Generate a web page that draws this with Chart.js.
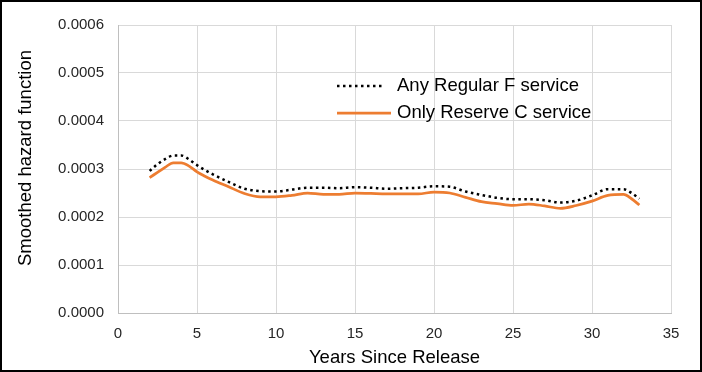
<!DOCTYPE html>
<html>
<head>
<meta charset="utf-8">
<script src="https://cdn.jsdelivr.net/npm/chart.js@4.4.0/dist/chart.umd.min.js"></script>
<style>
  html, body { margin: 0; padding: 0; background: #fff; }
  #wrap { width: 702px; height: 372px; }
</style>
</head>
<body>
<div id="wrap"><canvas id="hazardChart" width="702" height="372"></canvas></div>
<script>
/* ======= Data ======= */
const years = [2, 2.5, 3, 3.5, 4, 4.5, 5, 5.5, 6, 7, 8, 9, 10, 11, 12, 13, 14, 15, 16, 17,
               18, 19, 20, 21, 22, 23, 24, 25, 26, 27, 28, 29, 30, 31, 32, 32.5, 33];
const regularF = [0.000296, 0.000310, 0.000321, 0.000328, 0.000328, 0.000320, 0.000308, 0.000298, 0.000289,
                  0.000273, 0.000259, 0.000254, 0.000253, 0.000257, 0.000261, 0.000261, 0.000260, 0.000262,
                  0.000261, 0.000259, 0.000260, 0.000261, 0.000264, 0.000263, 0.000253, 0.000246, 0.000240,
                  0.000237, 0.000237, 0.000235, 0.000230, 0.000234, 0.000245, 0.000258, 0.000258, 0.000250, 0.000238];
const reserveC = [0.000282, 0.000293, 0.000304, 0.000313, 0.000313, 0.000306, 0.000294, 0.000285, 0.000277,
                  0.000263, 0.000249, 0.000242, 0.000242, 0.000245, 0.000250, 0.000247, 0.000247, 0.000250,
                  0.000249, 0.000248, 0.000248, 0.000248, 0.000252, 0.000250, 0.000241, 0.000232, 0.000228,
                  0.000224, 0.000227, 0.000223, 0.000218, 0.000224, 0.000233, 0.000245, 0.000247, 0.000238, 0.000225];
const seriesNames = ["Any Regular F service", "Only Reserve C service"];
const xTicks = [0, 5, 10, 15, 20, 25, 30, 35];
const yTicks = [0, 0.0001, 0.0002, 0.0003, 0.0004, 0.0005, 0.0006];
const yTitle = "Smoothed hazard function";

const toPoints = (vals) => vals.map((v, i) => ({ x: years[i], y: v }));

const FONT = "'Liberation Sans', Arial, sans-serif";
const ORANGE = "#ED7D31";

// white background, black frame, y axis title
const frame = {
    id: 'frame',
    beforeDraw(chart) {
        const c = chart.ctx;
        c.save();
        c.fillStyle = '#fff';
        c.fillRect(0, 0, chart.width, chart.height);
        c.restore();
    },
    afterDraw(chart) {
        const c = chart.ctx;
        const a = chart.chartArea;
        c.save();
        // y title (Excel puts it a little above the axis centre)
        c.translate(26, (a.top + a.bottom) / 2 - 11);
        c.rotate(-Math.PI / 2);
        c.fillStyle = '#000';
        c.font = '18.5px ' + FONT;
        c.textAlign = 'center';
        c.textBaseline = 'middle';
        c.fillText(yTitle, 0, 0);
        c.restore();

        c.save();
        c.strokeStyle = '#000';
        c.lineWidth = 2;
        c.strokeRect(1, 1, chart.width - 2, chart.height - 2);
        c.restore();
    }
};

// legend drawn inside the plot area
const innerLegend = {
    id: 'innerLegend',
    afterDatasetsDraw(chart) {
        const c = chart.ctx;
        const a = chart.chartArea;
        const x0 = a.left + 219;
        const rows = [a.top + 61, a.top + 88];
        c.save();
        chart.data.datasets.forEach((ds, i) => {
            const y = rows[i];
            c.beginPath();
            c.strokeStyle = ds.borderColor;
            c.lineWidth = ds.borderWidth;
            c.setLineDash(ds.borderDash || []);
            c.moveTo(x0, y);
            c.lineTo(x0 + (i === 0 ? 48 : 54), y);
            c.stroke();
            c.setLineDash([]);
            c.fillStyle = '#000';
            c.font = '18.5px ' + FONT;
            c.textBaseline = 'middle';
            c.fillText(ds.label, x0 + 60, y);
        });
        c.restore();
    }
};

const ctx = document.getElementById('hazardChart');
new Chart(ctx, {
    type: 'scatter',
    data: {
        datasets: [
            {
                label: seriesNames[0],
                data: toPoints(regularF),
                showLine: true,
                borderColor: '#000',
                backgroundColor: '#000',
                borderWidth: 2.5,
                borderDash: [2.5, 3.5],
                pointRadius: 0,
                tension: 0.4,
                cubicInterpolationMode: 'monotone'
            },
            {
                label: seriesNames[1],
                data: toPoints(reserveC),
                showLine: true,
                borderColor: ORANGE,
                backgroundColor: ORANGE,
                borderWidth: 2.75,
                pointRadius: 0,
                tension: 0.4,
                cubicInterpolationMode: 'monotone'
            }
        ]
    },
    options: {
        responsive: false,
        animation: false,
        layout: { padding: { left: 37, right: 31, top: 25, bottom: 3 } },
        plugins: {
            legend: { display: false },
            tooltip: { enabled: false }
        },
        scales: {
            x: {
                type: 'linear',
                min: 0,
                max: 35,
                afterBuildTicks(axis) { axis.ticks = xTicks.map(v => ({ value: v })); },
                afterFit(axis) { axis.height = 56; },
                grid: { color: '#d9d9d9', drawTicks: false },
                border: { color: '#bfbfbf' },
                ticks: {
                    color: '#262626',
                    font: { family: FONT, size: 15 },
                    padding: 12
                },
                title: {
                    display: true,
                    text: 'Years Since Release',
                    color: '#000',
                    font: { family: FONT, size: 18.5 },
                    padding: { top: 4, bottom: 0 }
                }
            },
            y: {
                min: 0,
                max: 0.0006,
                afterBuildTicks(axis) { axis.ticks = yTicks.map(v => ({ value: v })); },
                afterFit(axis) { axis.width = 81; },
                grid: { color: '#d9d9d9', drawTicks: false },
                border: { color: '#bfbfbf' },
                ticks: {
                    color: '#262626',
                    font: { family: FONT, size: 15 },
                    padding: 14,
                    callback: (value) => value.toFixed(4)
                }
            }
        }
    },
    plugins: [frame, innerLegend]
});
</script>
</body>
</html>
